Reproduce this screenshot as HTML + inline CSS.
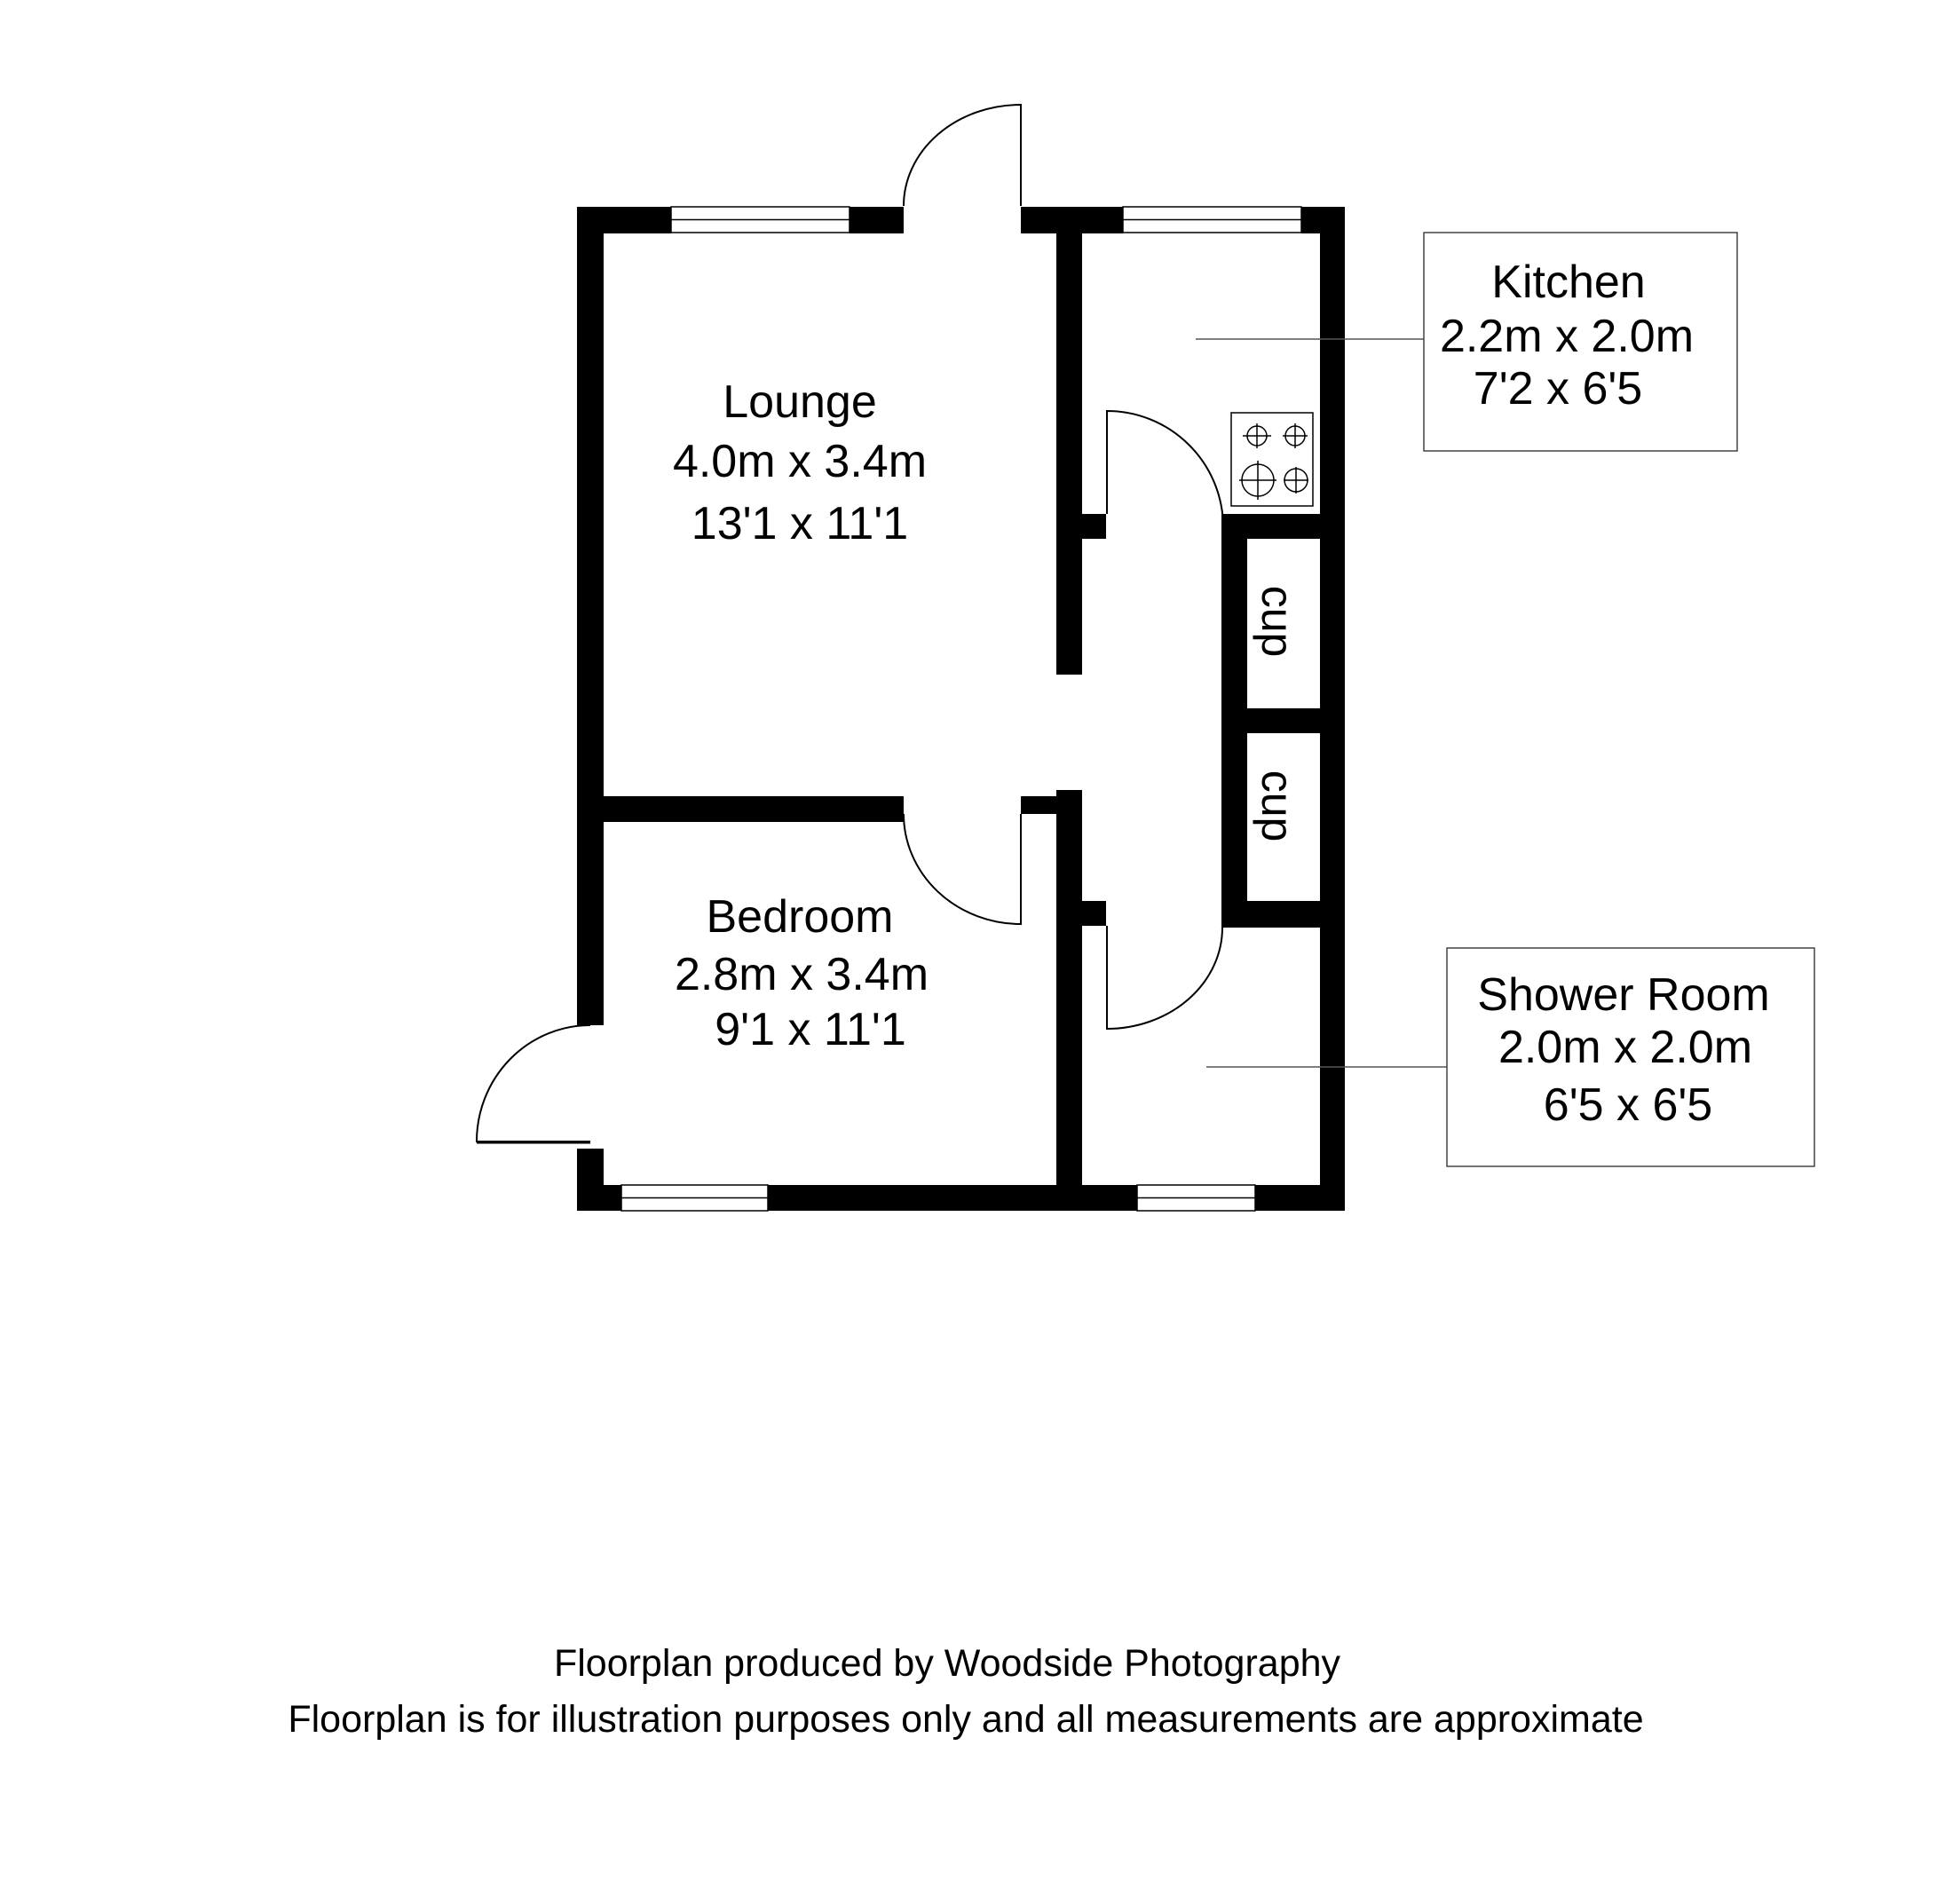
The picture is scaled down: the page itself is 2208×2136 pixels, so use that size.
<!DOCTYPE html>
<html><head><meta charset="utf-8"><style>
html,body{margin:0;padding:0;background:#fff;}
svg{display:block;}
text{font-family:"Liberation Sans",Arial,sans-serif;fill:#000;}
</style></head><body>
<svg width="2208" height="2136" viewBox="0 0 2208 2136" xmlns="http://www.w3.org/2000/svg">
<rect width="2208" height="2136" fill="#fff"/>
<g fill="#000">
<rect x="650" y="233" width="106" height="30"/>
<rect x="957" y="233" width="61" height="30"/>
<rect x="1150" y="233" width="115" height="30"/>
<rect x="1466" y="233" width="49" height="30"/>
<rect x="1487" y="233" width="28" height="1131"/>
<rect x="650" y="233" width="30" height="922"/>
<rect x="650" y="1294" width="30" height="70"/>
<rect x="650" y="1335" width="50" height="29"/>
<rect x="865" y="1335" width="416" height="29"/>
<rect x="1414" y="1335" width="101" height="29"/>
<rect x="680" y="897" width="338" height="29"/>
<rect x="1150" y="897" width="69" height="20"/>
<rect x="1190" y="262" width="29" height="498"/>
<rect x="1190" y="579" width="56" height="28"/>
<rect x="1190" y="890" width="29" height="474"/>
<rect x="1190" y="1015" width="56" height="28"/>
<rect x="1376" y="579" width="139" height="28"/>
<rect x="1376" y="579" width="29" height="466"/>
<rect x="1376" y="798" width="139" height="28"/>
<rect x="1376" y="1015" width="139" height="30"/>
</g>
<g fill="#fff" stroke="#000" stroke-width="1.5">
<rect x="756" y="233" width="201" height="29"/><line x1="756" y1="247.5" x2="957" y2="247.5"/>
<rect x="1265" y="233" width="201" height="29"/><line x1="1265" y1="247.5" x2="1466" y2="247.5"/>
<rect x="700" y="1335" width="165" height="29"/><line x1="700" y1="1349.5" x2="865" y2="1349.5"/>
<rect x="1281" y="1335" width="133" height="29"/><line x1="1281" y1="1349.5" x2="1414" y2="1349.5"/>
</g>
<g fill="none" stroke="#000" stroke-width="2">
<path d="M1150 232 L1150 118 A132 114 0 0 0 1018 232"/>
<path d="M1150 917 L1150 1041 A132 124 0 0 1 1018 917"/>
<path d="M1247 579 L1247 463 A131 131 0 0 1 1378 594 L1378 607"/>
<path d="M1247 1043 L1247 1159 A130 114 0 0 0 1377 1045"/>
<path d="M665 1286 L537 1286 A128 131 0 0 1 665 1155"/>
</g>
<line x1="537" y1="1287" x2="665" y2="1287" stroke="#000" stroke-width="3"/>
<g fill="none" stroke="#000" stroke-width="1.5">
<rect x="1387" y="465" width="92" height="105"/>
<circle cx="1416" cy="491" r="11"/><circle cx="1459" cy="491" r="11"/>
<circle cx="1417" cy="541" r="18"/><circle cx="1460" cy="541" r="13"/>
<path d="M1400 491h32M1416 477v28M1445 491h28M1459 477v28M1396 541h42M1417 519v44M1446 541h28M1460 526v30"/>
</g>
<g stroke="#555" stroke-width="1.5">
<line x1="1347" y1="382" x2="1604" y2="382"/>
<line x1="1359" y1="1202" x2="1630" y2="1202"/>
</g>
<g fill="none" stroke="#444" stroke-width="1.5">
<rect x="1604" y="262" width="353" height="246"/>
<rect x="1630" y="1068" width="414" height="246"/>
</g>
<g font-size="52" text-anchor="middle" dominant-baseline="central">
<text x="901" y="453">Lounge</text>
<text x="901" y="520">4.0m x 3.4m</text>
<text x="901" y="590">13'1 x 11'1</text>
<text x="901" y="1033">Bedroom</text>
<text x="903" y="1098">2.8m x 3.4m</text>
<text x="913" y="1160">9'1 x 11'1</text>
<text x="1767" y="318">Kitchen</text>
<text x="1765" y="379">2.2m x 2.0m</text>
<text x="1755" y="438">7'2 x 6'5</text>
<text x="1829" y="1121">Shower Room</text>
<text x="1831" y="1180">2.0m x 2.0m</text>
<text x="1834" y="1245">6'5 x 6'5</text>
</g>
<g font-size="50" text-anchor="middle" dominant-baseline="central">
<text transform="translate(1439 700) rotate(90)">cup</text>
<text transform="translate(1439 908) rotate(90)">cup</text>
</g>
<g font-size="43" text-anchor="middle" dominant-baseline="central">
<text x="1067" y="1874">Floorplan produced by Woodside Photography</text>
<text x="1088" y="1937">Floorplan is for illustration purposes only and all measurements are approximate</text>
</g>
</svg>
</body></html>
